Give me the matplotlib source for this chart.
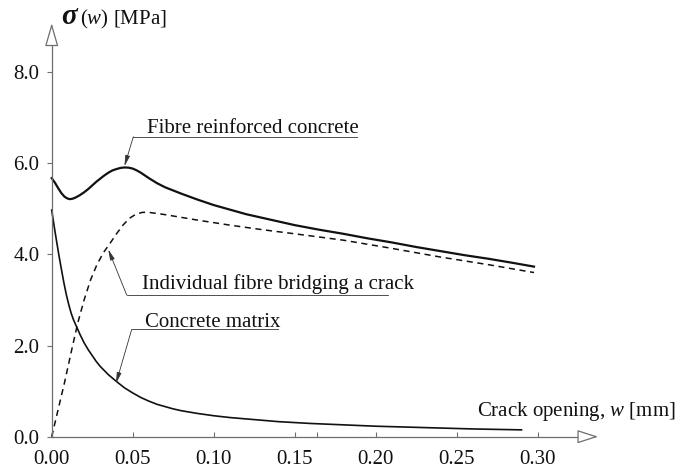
import matplotlib
matplotlib.use("Agg")
import matplotlib.pyplot as plt

plt.rcParams["font.family"] = ["Liberation Serif", "DejaVu Serif"]
plt.rcParams["mathtext.fontset"] = "custom"
plt.rcParams["mathtext.rm"] = "Liberation Serif"
plt.rcParams["mathtext.it"] = "Liberation Serif:italic"

# Crack opening w [mm] and stress sigma [MPa] for the three curves
w_frc = [0, 0.002, 0.004, 0.006, 0.008, 0.010, 0.0113, 0.013, 0.015, 0.0175,
         0.020, 0.0225, 0.025, 0.0275, 0.030, 0.0325, 0.035, 0.0375, 0.040,
         0.0425, 0.045, 0.0475, 0.050, 0.0525, 0.055, 0.0575, 0.060, 0.065,
         0.070, 0.075, 0.080, 0.090, 0.100, 0.110, 0.120, 0.135, 0.150, 0.165,
         0.180, 0.195, 0.210, 0.225, 0.240, 0.255, 0.270, 0.285, 0.2977]
s_frc = [5.67, 5.57, 5.45, 5.34, 5.26, 5.22, 5.21, 5.22, 5.25, 5.30,
         5.36, 5.43, 5.51, 5.59, 5.66, 5.73, 5.79, 5.84, 5.87,
         5.895, 5.905, 5.90, 5.88, 5.84, 5.79, 5.73, 5.67, 5.56,
         5.47, 5.40, 5.33, 5.20, 5.08, 4.98, 4.88, 4.76, 4.64, 4.54,
         4.45, 4.35, 4.26, 4.16, 4.07, 3.98, 3.90, 3.81, 3.73]

w_fibre = [0, 0.004, 0.008, 0.012, 0.016, 0.020, 0.024, 0.028, 0.032, 0.036,
           0.040, 0.044, 0.048, 0.052, 0.056, 0.060, 0.070, 0.090, 0.110,
           0.130, 0.150, 0.180, 0.210, 0.240, 0.270, 0.2977]
s_fibre = [0, 0.60, 1.20, 1.85, 2.48, 3.00, 3.44, 3.78, 4.04, 4.24,
           4.45, 4.64, 4.79, 4.88, 4.92, 4.92, 4.87, 4.75, 4.64,
           4.54, 4.45, 4.31, 4.13, 3.94, 3.77, 3.60]

w_matrix = [0, 0.0015, 0.003, 0.0045, 0.006, 0.0075, 0.009, 0.0105, 0.012,
            0.0135, 0.015, 0.0175, 0.020, 0.0225, 0.025, 0.0275, 0.030, 0.035,
            0.040, 0.045, 0.050, 0.055, 0.060, 0.065, 0.070, 0.075, 0.080,
            0.090, 0.100, 0.110, 0.120, 0.130, 0.140, 0.160, 0.180, 0.200,
            0.230, 0.260, 0.290]
s_matrix = [4.97, 4.62, 4.29, 3.97, 3.67, 3.38, 3.12, 2.90, 2.71,
            2.56, 2.44, 2.24, 2.06, 1.91, 1.78, 1.65, 1.54, 1.36,
            1.21, 1.07, 0.96, 0.86, 0.78, 0.71, 0.66, 0.61, 0.57,
            0.51, 0.46, 0.42, 0.39, 0.36, 0.33, 0.29, 0.26, 0.23,
            0.20, 0.17, 0.15]

x_ticks = [0.00, 0.05, 0.10, 0.15, 0.20, 0.25, 0.30]
x_tick_labels = ["0.00", "0.05", "0.10", "0.15", "0.20", "0.25", "0.30"]
y_ticks = [0.0, 2.0, 4.0, 6.0, 8.0]
y_tick_labels = ["0.0", "2.0", "4.0", "6.0", "8.0"]

W, H = 678, 471
fig = plt.figure(figsize=(W / 100, H / 100), dpi=100)
ax = fig.add_axes([51.7 / W, 34.3 / H, 558.9 / W, 419.5 / H])
ax.set_xlim(0, 0.345)
ax.set_ylim(0, 9.2)

grey = "#6e6e6e"
ink = "#111111"

# curves
ax.plot(w_frc, s_frc, color=ink, lw=1.6, solid_joinstyle="round", clip_on=False)
ax.plot(w_fibre, s_fibre, color=ink, lw=1.1, ls=(0, (4, 3)), clip_on=False)
ax.plot(w_matrix, s_matrix, color=ink, lw=1.2, solid_joinstyle="round", clip_on=False)

# axes with open arrowheads
for side in ("top", "right"):
    ax.spines[side].set_visible(False)
for side in ("left", "bottom"):
    ax.spines[side].set_color(grey)
    ax.spines[side].set_linewidth(0.9)
ax.spines["left"].set_bounds(0, 8.63)
ax.spines["bottom"].set_bounds(0, 0.3262)

head = dict(fc="white", ec=grey, lw=0.9, shrinkA=0, shrinkB=0, mutation_scale=10)
ax.annotate("", xy=(0, 9.07), xytext=(0, 8.63), xycoords="data",
            arrowprops=dict(arrowstyle="-|>,head_length=1.45,head_width=0.42", **head),
            annotation_clip=False)
ax.annotate("", xy=(0.3373, 0), xytext=(0.3262, 0), xycoords="data",
            arrowprops=dict(arrowstyle="-|>,head_length=1.3,head_width=0.42", **head),
            annotation_clip=False)

ax.set_xticks(x_ticks)
ax.set_xticklabels(x_tick_labels)
ax.set_xticks([0.1636], minor=True)
ax.set_yticks(y_ticks)
ax.set_yticklabels(y_tick_labels)
ax.tick_params(axis="x", which="both", direction="in", length=3.8, width=0.8,
               color=grey, pad=9.5, labelsize=15, labelcolor=ink)
ax.tick_params(axis="y", direction="out", length=3.6, width=0.8,
               color=grey, pad=5.3, labelsize=15, labelcolor=ink)

# axis titles
fig.text(61.5 / W, 1 - 24.5 / H, "σ", fontsize=21, fontstyle="italic",
         fontweight="bold", color=ink, va="baseline", ha="left")
fig.text(80 / W, 1 - 24 / H, r"$(w)$ [MPa]", fontsize=15, color=ink,
         va="baseline", ha="left")
fig.text(676 / W, 1 - 416 / H, r"Crack opening, $w$ [mm]", fontsize=15,
         color=ink, va="baseline", ha="right")

# leader labels
leader = dict(arrowstyle="-|>,head_length=0.65,head_width=0.14", color="#333333",
              lw=0.6, shrinkA=0, shrinkB=0, mutation_scale=10)
labels = [
    ("Fibre reinforced concrete", (0.0586, 6.65), (0.0504, 0.1885, 6.58), (0.0449, 5.93)),
    ("Individual fibre bridging a crack", (0.0556, 3.23), (0.0463, 0.2076, 3.107), (0.0349, 4.11)),
    ("Concrete matrix", (0.0576, 2.41), (0.0494, 0.1397, 2.355), (0.0397, 1.17)),
]
for text, txy, (x0, x1, yl), tip in labels:
    ax.text(txy[0], txy[1], text, fontsize=15, color=ink, va="baseline", ha="left")
    ax.plot([x0, x1], [yl, yl], color="#333333", lw=0.6, clip_on=False)
    ax.annotate("", xy=tip, xytext=(x0, yl), arrowprops=leader, annotation_clip=False)

fig.savefig("out.png", dpi=100, facecolor="white")
